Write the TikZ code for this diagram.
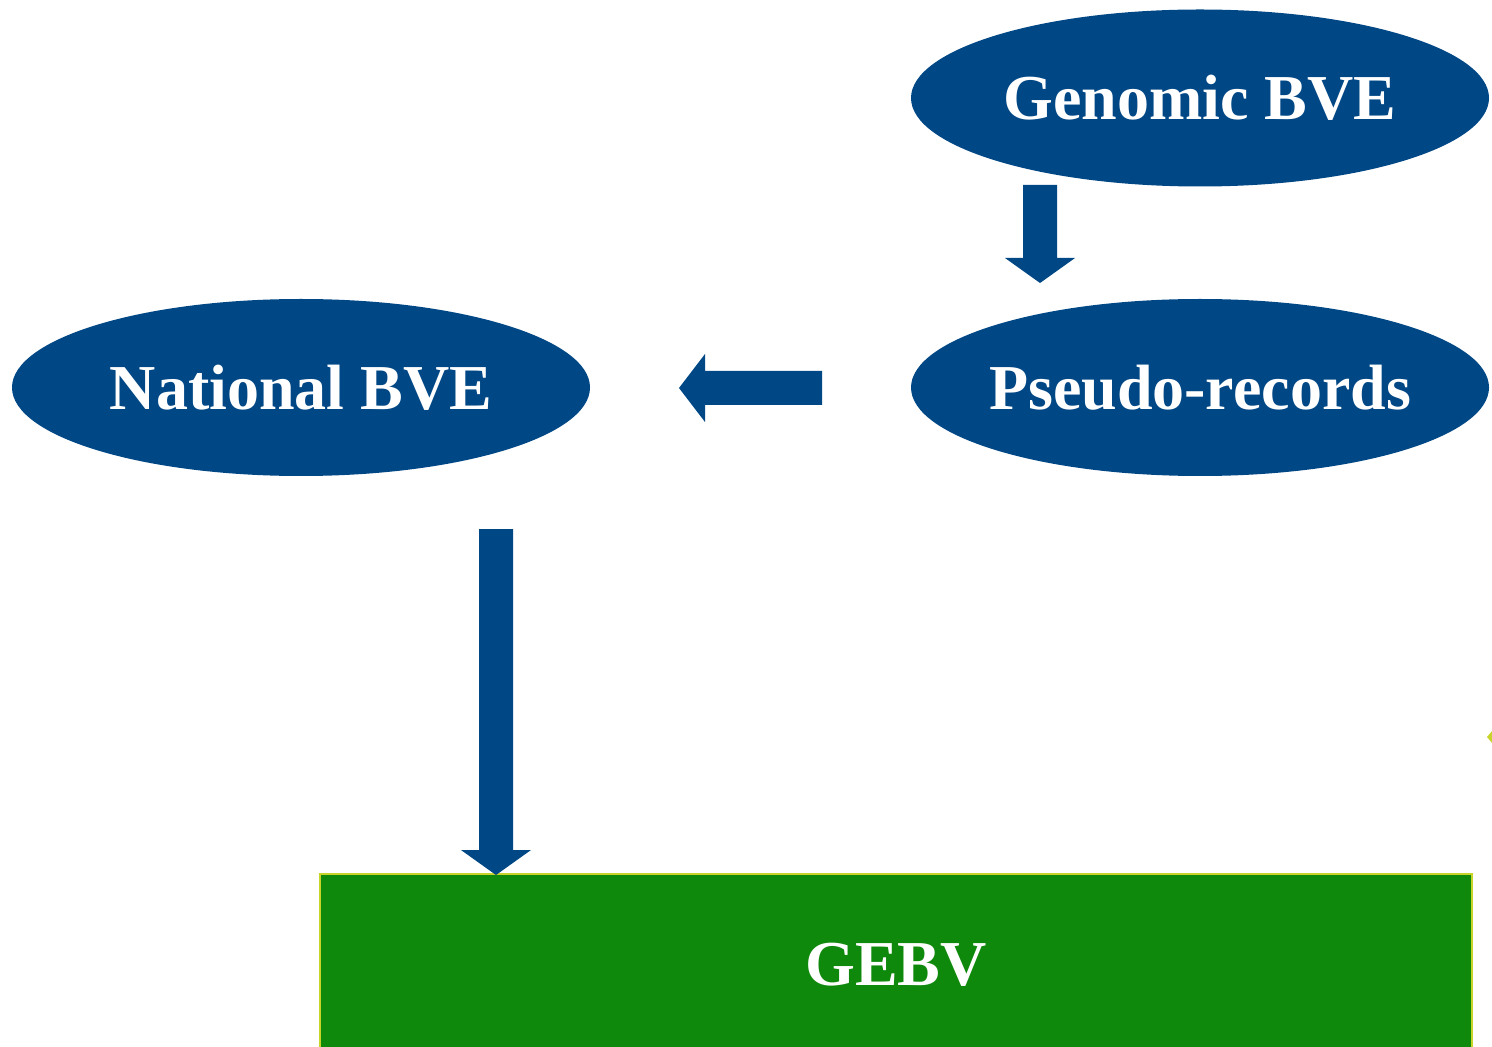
\documentclass[tikz,border=0pt]{standalone}
\usepackage{fontspec}
\setmainfont{Liberation Serif}
\usetikzlibrary{shapes.geometric}
\definecolor{navy}{RGB}{0,71,133}
\definecolor{boxgreen}{RGB}{15,137,12}
\definecolor{boxedge}{RGB}{200,212,42}
\newcommand{\zw}[1]{\makebox[0pt]{#1}}
\tikzset{
  oval/.style={ellipse, fill=navy, draw=none, inner sep=0pt,
    minimum width=289pt, minimum height=88.5pt,
    text=white, font=\fontsize{32}{38}\selectfont\bfseries},
  blockarrow/.style={fill=navy, draw=none},
  resultbox/.style={fill=boxgreen, draw=boxedge, line width=1.2pt}
}
\begin{document}
\begin{tikzpicture}[x=0.5pt, y=-0.5pt]
\useasboundingbox (0,0) rectangle (1492,1047);
\clip (0,0) rectangle (1492,1047);
\node[oval] (gbve) at (1200,98) {\zw{Genomic BVE}};
\node[oval] (pseudo) at (1200,387.5) {\zw{Pseudo-records}};
\node[oval] (nbve) at (301,387.5) {\zw{National BVE}};
\draw[resultbox] (320,874) rectangle (1472,1070);
\node[text=white, font=\fontsize{32}{38}\selectfont\bfseries] (gebv) at (896,965) {GEBV};
% block arrows
\fill[blockarrow] (1023,185) -- (1057,185) -- (1057,258) -- (1075,258) -- (1040,283) -- (1005,258) -- (1023,258) -- cycle;
\fill[blockarrow] (822,371) -- (822,405) -- (705,405) -- (705,422) -- (679,388) -- (705,354) -- (705,371) -- cycle;
\fill[blockarrow] (479,529) -- (513,529) -- (513,850) -- (531,850) -- (496,875) -- (461,850) -- (479,850) -- cycle;
% small speck at right edge
\fill[boxedge] (1487,737) -- (1492,731) -- (1492,743) -- cycle;
\end{tikzpicture}
\end{document}
